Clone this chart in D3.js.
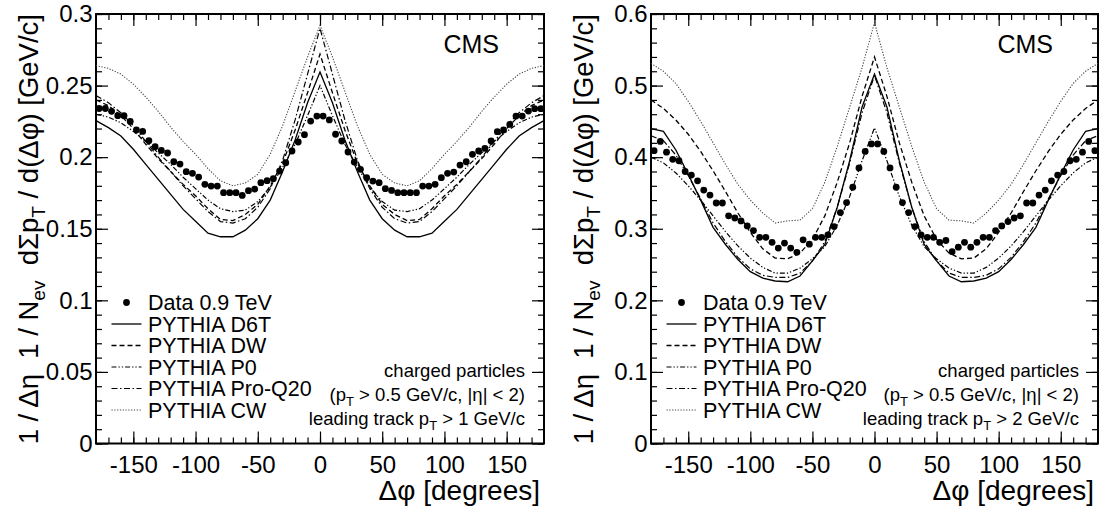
<!DOCTYPE html>
<html>
<head>
<meta charset="utf-8">
<script src="https://cdn.jsdelivr.net/npm/d3@7/dist/d3.min.js"></script>
<style>
  html, body { margin: 0; padding: 0; background: #fff; }
  svg { display: block; }
  text { font-family: 'Liberation Sans', Arial, Helvetica, sans-serif; fill: #000; white-space: pre; }
</style>
</head>
<body>
<script>
// ---- data ----
// curve sampling points (degrees)
var curvePhi = [-180,-170,-160,-150,-140,-130,-120,-110,-100,-90,-80,-70,-60,-50,-40,-30,-20,-10,0,
                10,20,30,40,50,60,70,80,90,100,110,120,130,140,150,160,170,180];
// data bin centres, 5 degree bins
var dataPhi = d3.range(-177.5, 180, 5);

// left panel: leading track pT > 1 GeV/c
var dataLeft = [0.234,0.234,0.232,0.229,0.229,0.225,0.219,0.218,0.2115,0.2073,0.2047,0.2029,0.1968,0.1952,0.1899,0.1887,0.1861,0.181,
                0.1798,0.1798,0.1752,0.1752,0.1752,0.1733,0.1766,0.1777,0.1822,0.1836,0.185,0.1903,0.1961,0.2043,0.2106,0.2157,0.2252,0.2287,
                0.2287,0.226,0.216,0.2113,0.2036,0.1966,0.1915,0.1857,0.1833,0.1822,0.178,0.1768,0.1752,0.1752,0.1752,0.1752,0.1798,0.1798,
                0.181,0.1857,0.1887,0.1896,0.1945,0.1968,0.202,0.2043,0.2062,0.2113,0.2178,0.219,0.2229,0.2287,0.2287,0.2322,0.2339,0.2339];
var d6tLeft = [0.2255,0.2206,0.2148,0.2055,0.195,0.1845,0.174,0.1635,0.1553,0.1469,0.1444,0.1444,0.149,0.157,0.170,0.190,0.212,0.238,0.2595,
               0.238,0.212,0.190,0.170,0.157,0.149,0.1444,0.1444,0.1469,0.1553,0.1635,0.174,0.1845,0.195,0.2055,0.2148,0.2206,0.2255];
var dwLeft = [0.240,0.236,0.229,0.220,0.209,0.199,0.190,0.181,0.173,0.164,0.1565,0.1557,0.160,0.167,0.180,0.196,0.219,0.245,0.272,
              0.245,0.219,0.196,0.180,0.167,0.160,0.1557,0.1565,0.164,0.173,0.181,0.190,0.199,0.209,0.220,0.229,0.236,0.240];
var p0Left = [0.230,0.228,0.224,0.218,0.211,0.203,0.195,0.186,0.178,0.170,0.164,0.162,0.163,0.169,0.179,0.193,0.209,0.229,0.250,
              0.229,0.209,0.193,0.179,0.169,0.163,0.162,0.164,0.170,0.178,0.186,0.195,0.203,0.211,0.218,0.224,0.228,0.230];
var q20Left = [0.243,0.238,0.231,0.222,0.211,0.200,0.190,0.180,0.171,0.162,0.155,0.154,0.157,0.165,0.178,0.198,0.226,0.258,0.290,
               0.258,0.226,0.198,0.178,0.165,0.157,0.154,0.155,0.162,0.171,0.180,0.190,0.200,0.211,0.222,0.231,0.238,0.243];
var cwLeft = [0.264,0.262,0.258,0.251,0.242,0.232,0.221,0.211,0.202,0.192,0.1835,0.180,0.182,0.188,0.202,0.222,0.246,0.270,0.292,
              0.270,0.246,0.222,0.202,0.188,0.182,0.180,0.1835,0.192,0.202,0.211,0.221,0.232,0.242,0.251,0.258,0.262,0.264];

// right panel: leading track pT > 2 GeV/c
var dataRight = [0.409,0.422,0.407,0.397,0.395,0.380,0.375,0.367,0.354,0.347,0.336,0.336,0.318,0.315,0.311,0.304,0.2975,0.288,
                 0.288,0.281,0.273,0.280,0.273,0.267,0.2845,0.2785,0.288,0.288,0.2915,0.303,0.3226,0.3366,0.358,0.385,0.408,0.4185,
                 0.4185,0.408,0.385,0.358,0.3366,0.3226,0.303,0.2915,0.288,0.288,0.281,0.2836,0.268,0.2743,0.281,0.2743,0.281,0.288,
                 0.288,0.2975,0.304,0.310,0.315,0.318,0.336,0.336,0.347,0.354,0.367,0.375,0.380,0.395,0.397,0.407,0.422,0.409];
var d6tRight = [0.440,0.436,0.410,0.376,0.340,0.302,0.278,0.257,0.240,0.231,0.227,0.226,0.234,0.255,0.278,0.330,0.395,0.470,0.516,
                0.470,0.395,0.330,0.278,0.255,0.234,0.226,0.227,0.231,0.240,0.257,0.278,0.302,0.340,0.376,0.410,0.436,0.440];
var dwRight = [0.480,0.468,0.452,0.432,0.408,0.381,0.352,0.322,0.295,0.272,0.259,0.258,0.266,0.285,0.318,0.365,0.420,0.485,0.540,
               0.485,0.420,0.365,0.318,0.285,0.266,0.258,0.259,0.272,0.295,0.322,0.352,0.381,0.408,0.432,0.452,0.468,0.480];
var p0Right = [0.400,0.392,0.378,0.360,0.340,0.318,0.296,0.276,0.259,0.246,0.238,0.238,0.245,0.258,0.275,0.305,0.345,0.395,0.441,
               0.395,0.345,0.305,0.275,0.258,0.245,0.238,0.238,0.246,0.259,0.276,0.296,0.318,0.340,0.360,0.378,0.392,0.400];
var q20Right = [0.430,0.423,0.403,0.374,0.342,0.308,0.282,0.260,0.244,0.235,0.232,0.232,0.238,0.255,0.282,0.330,0.392,0.462,0.514,
                0.462,0.392,0.330,0.282,0.255,0.238,0.232,0.232,0.235,0.244,0.260,0.282,0.308,0.342,0.374,0.403,0.423,0.430];
var cwRight = [0.531,0.520,0.503,0.478,0.450,0.420,0.390,0.362,0.340,0.322,0.308,0.311,0.312,0.328,0.365,0.415,0.470,0.525,0.588,
               0.525,0.470,0.415,0.365,0.328,0.312,0.311,0.308,0.322,0.340,0.362,0.390,0.420,0.450,0.478,0.503,0.520,0.531];

// axis ticks
var xMajorTicks = [-150,-100,-50,0,50,100,150];
var xMinorTicks = d3.range(-170, 180, 10);
var yMajorLeft = [0,0.05,0.1,0.15,0.2,0.25,0.3];
var yMinorLeft = d3.range(0, 0.305, 0.01);
var yMajorRight = [0,0.1,0.2,0.3,0.4,0.5,0.6];
var yMinorRight = d3.range(0, 0.605, 0.02);

var legendLabels = ['Data 0.9 TeV','PYTHIA D6T','PYTHIA DW','PYTHIA P0','PYTHIA Pro-Q20','PYTHIA CW'];

// line styles per model
var styles = {
  d6t: { dash: null,                 color: '#000', width: 1.3 },
  dw:  { dash: '5,3',                color: '#000', width: 1.3 },
  p0:  { dash: '5,2,1.3,2,1.3,2',    color: '#000', width: 1.2 },
  q20: { dash: '6,2.5,1.5,2.5',      color: '#000', width: 1.2 },
  cw:  { dash: '1.2,1.6',            color: '#444', width: 1.1 }
};

var W = 1101, H = 513, TOP = 14, BOTTOM = 443.5;

var svg = d3.select('body').append('svg').attr('width', W).attr('height', H);
svg.append('rect').attr('width', W).attr('height', H).attr('fill', '#fff');

function drawPanel(p) {
  var x = d3.scaleLinear().domain([-180, 180]).range([p.left, p.right]);
  var y = d3.scaleLinear().domain([0, p.yMax]).range([BOTTOM, TOP]);
  var g = svg.append('g');
  var fmt = function(d) { return String(d); };
  var none = function() { return ''; };

  function axis(gen, transform) {
    g.append('g').attr('transform', transform).call(gen)
      .call(function(s) { s.select('.domain').remove(); })
      .call(function(s) { s.selectAll('line').attr('stroke', '#000').attr('stroke-width', 1.2); });
  }
  // x ticks (bottom with labels, top without)
  axis(d3.axisBottom(x).tickValues(xMinorTicks).tickSize(-6).tickFormat(none), 'translate(0,' + BOTTOM + ')');
  axis(d3.axisBottom(x).tickValues(xMajorTicks).tickSize(-12).tickPadding(12).tickFormat(fmt), 'translate(0,' + BOTTOM + ')');
  axis(d3.axisTop(x).tickValues(xMinorTicks).tickSize(-6).tickFormat(none), 'translate(0,' + TOP + ')');
  axis(d3.axisTop(x).tickValues(xMajorTicks).tickSize(-12).tickFormat(none), 'translate(0,' + TOP + ')');
  // y ticks
  axis(d3.axisLeft(y).tickValues(p.yMinor).tickSize(-6).tickFormat(none), 'translate(' + p.left + ',0)');
  axis(d3.axisLeft(y).tickValues(p.yMajor).tickSize(-12).tickPadding(3.5).tickFormat(fmt), 'translate(' + p.left + ',0)');
  axis(d3.axisRight(y).tickValues(p.yMinor).tickSize(-6).tickFormat(none), 'translate(' + p.right + ',0)');
  axis(d3.axisRight(y).tickValues(p.yMajor).tickSize(-12).tickFormat(none), 'translate(' + p.right + ',0)');
  g.selectAll('.tick text').attr('font-size', 24).attr('font-family', null).attr('fill', '#000');

  // frame
  g.append('rect').attr('x', p.left).attr('y', TOP)
    .attr('width', p.right - p.left).attr('height', BOTTOM - TOP)
    .attr('fill', 'none').attr('stroke', '#000').attr('stroke-width', 2);

  // model curves
  var line = d3.line()
    .x(function(d, i) { return x(curvePhi[i]); })
    .y(function(d) { return y(d); });
  var order = ['cw', 'dw', 'p0', 'q20', 'd6t'];
  order.forEach(function(k) {
    var st = styles[k];
    g.append('path').datum(p.curves[k]).attr('d', line)
      .attr('fill', 'none').attr('stroke', st.color).attr('stroke-width', st.width)
      .attr('stroke-dasharray', st.dash);
  });

  // data points
  g.selectAll('circle.data').data(p.data).enter().append('circle')
    .attr('class', 'data')
    .attr('cx', function(d, i) { return x(dataPhi[i]); })
    .attr('cy', function(d) { return y(d); })
    .attr('r', 3.4).attr('fill', '#000');

  // CMS label
  g.append('text').attr('x', p.right - 45).attr('y', 53).attr('text-anchor', 'end')
    .attr('font-size', 25).text('CMS');

  // legend
  var lx = p.left + 15.5, ly0 = 302.5, step = 21.5;
  var keys = ['data', 'd6t', 'dw', 'p0', 'q20', 'cw'];
  keys.forEach(function(k, i) {
    var cy = ly0 + i * step;
    if (k === 'data') {
      g.append('circle').attr('cx', lx + 15).attr('cy', cy).attr('r', 3.4).attr('fill', '#000');
    } else {
      var st = styles[k];
      g.append('line').attr('x1', lx).attr('x2', lx + 30).attr('y1', cy).attr('y2', cy)
        .attr('stroke', st.color).attr('stroke-width', st.width).attr('stroke-dasharray', st.dash);
    }
    g.append('text').attr('x', lx + 36.5).attr('y', cy + 7.7).attr('font-size', 21.5).text(legendLabels[i]);
  });

  // selection notes
  var nx = p.right - 19;
  g.append('text').attr('x', nx).attr('y', 377).attr('text-anchor', 'end').attr('font-size', 18.5)
    .text('charged particles');
  var t2 = g.append('text').attr('x', nx).attr('y', 400.5).attr('text-anchor', 'end').attr('font-size', 18.5);
  t2.append('tspan').text('(p');
  t2.append('tspan').attr('font-size', 13).attr('dy', 5).text('T');
  t2.append('tspan').attr('dy', -5).text(' > 0.5 GeV/c, |η| < 2)');
  var t3 = g.append('text').attr('x', nx).attr('y', 425).attr('text-anchor', 'end').attr('font-size', 18.5);
  t3.append('tspan').text('leading track p');
  t3.append('tspan').attr('font-size', 13).attr('dy', 5).text('T');
  t3.append('tspan').attr('dy', -5).text(' > ' + p.cut + ' GeV/c');

  // axis titles
  g.append('text').attr('x', p.right - 4).attr('y', 500).attr('text-anchor', 'end')
    .attr('font-size', 28).text('Δφ [degrees]');
  var yt = g.append('text').attr('transform', 'translate(' + (p.left - 58) + ',' + TOP + ') rotate(-90)')
    .attr('text-anchor', 'end').attr('font-size', 27.5);
  yt.append('tspan').text('1 / Δη  1 / N');
  yt.append('tspan').attr('font-size', 19).attr('dy', 7).text('ev');
  yt.append('tspan').attr('dy', -7).text('  dΣp');
  yt.append('tspan').attr('font-size', 19).attr('dy', 7).text('T');
  yt.append('tspan').attr('dy', -7).text(' / d(Δφ) [GeV/c]');
}

drawPanel({
  left: 96, right: 544, yMax: 0.3, yMajor: yMajorLeft, yMinor: yMinorLeft, cut: 1,
  data: dataLeft,
  curves: { d6t: d6tLeft, dw: dwLeft, p0: p0Left, q20: q20Left, cw: cwLeft }
});
drawPanel({
  left: 651, right: 1098, yMax: 0.6, yMajor: yMajorRight, yMinor: yMinorRight, cut: 2,
  data: dataRight,
  curves: { d6t: d6tRight, dw: dwRight, p0: p0Right, q20: q20Right, cw: cwRight }
});
</script>
</body>
</html>
